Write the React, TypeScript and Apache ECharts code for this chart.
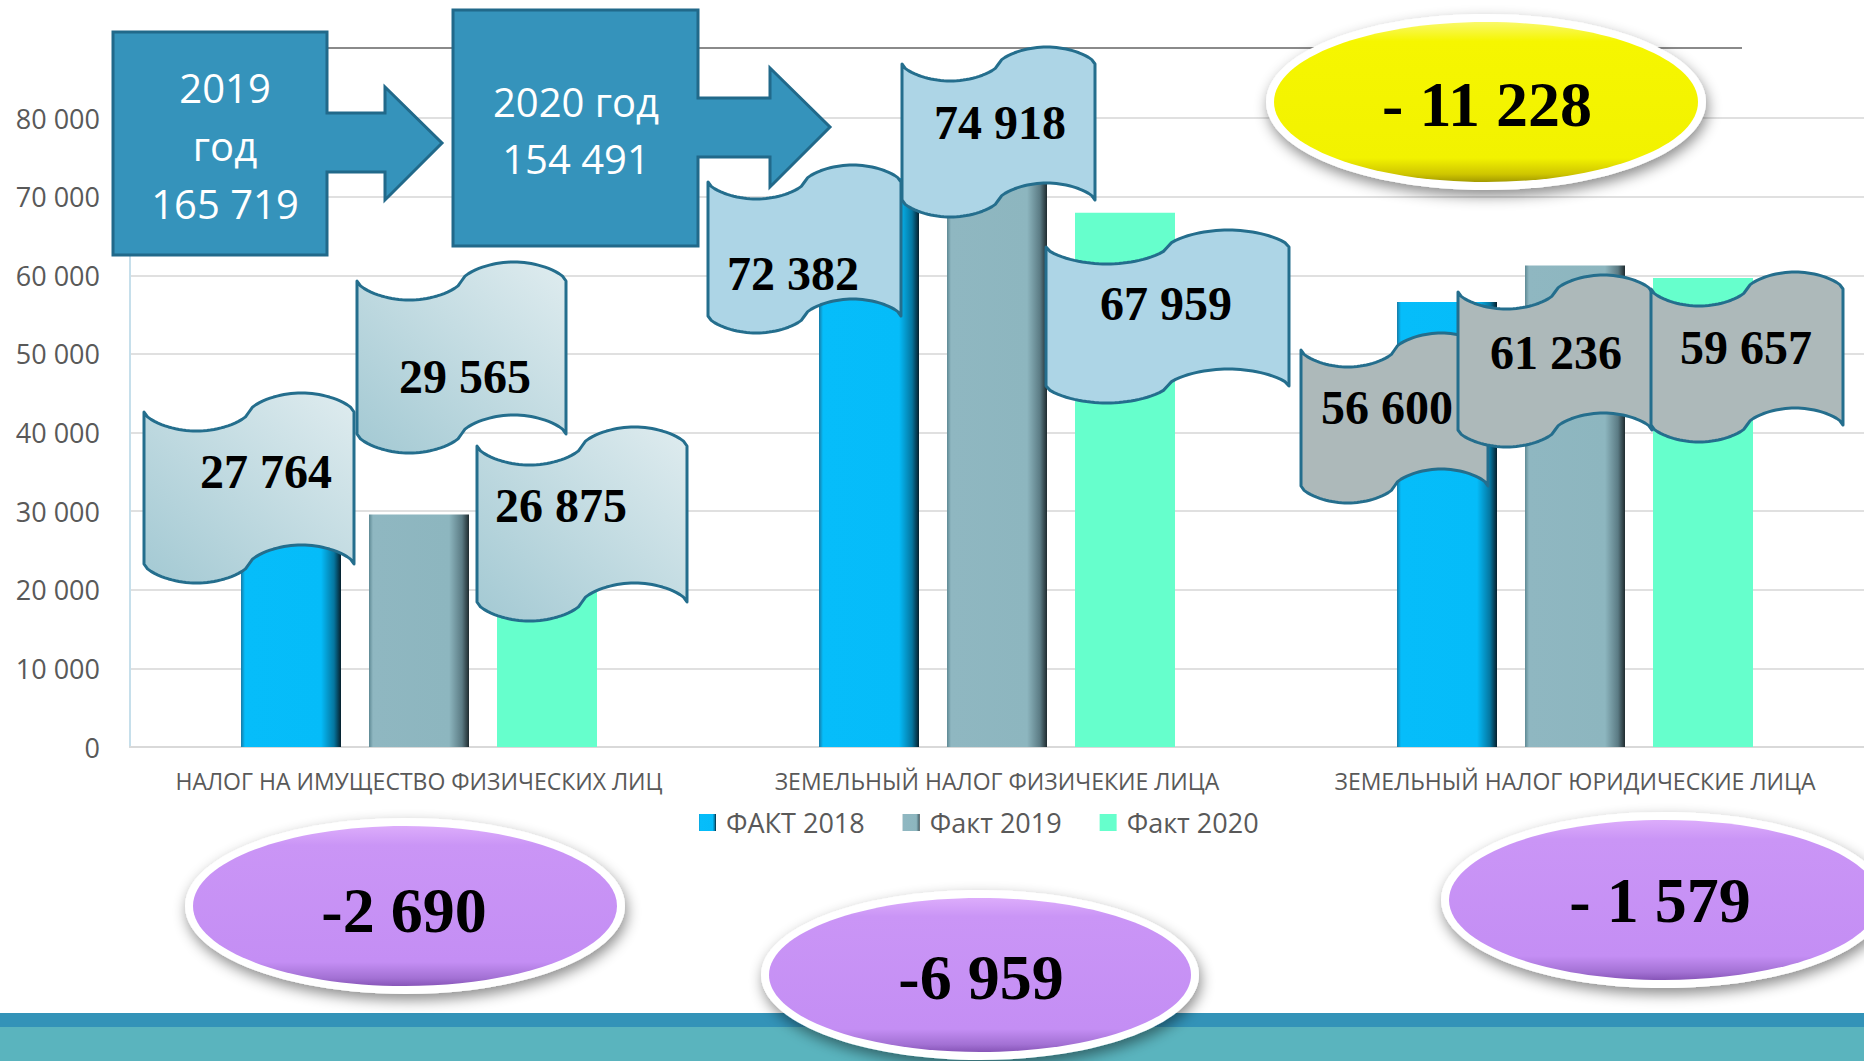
import React, { useEffect, useRef } from 'react';
import * as echarts from 'echarts';

// ---------- data ----------
const categories = [
  'НАЛОГ НА ИМУЩЕСТВО ФИЗИЧЕСКИХ ЛИЦ',
  'ЗЕМЕЛЬНЫЙ НАЛОГ ФИЗИЧЕКИЕ ЛИЦА',
  'ЗЕМЕЛЬНЫЙ НАЛОГ ЮРИДИЧЕСКИЕ ЛИЦА',
];
const seriesNames = ['ФАКТ 2018', 'Факт 2019', 'Факт 2020'];
const fact2018 = [27764, 72382, 56600];
const fact2019 = [29565, 74918, 61236];
const fact2020 = [26875, 67959, 59657];
const yMin = 0;
const yMax = 80000;
const yInterval = 10000;
const totalYears = ['2019', '2020'];
const totals = [165719, 154491];
const diffLabels = ['-2 690', '-6 959', '- 1 579'];
const totalDiffLabel = '- 11 228';

const fmt = (n: number) => String(n).replace(/\B(?=(\d{3})+(?!\d))/g, ' ');

// ---------- decoration layout (annotations, not marks) ----------
// [x, y, w, h, textX, textY] per category, per series
const callouts = [
  [[144, 393, 210, 190, 266, 471], [357, 262, 209, 191, 465, 376], [477, 427, 210, 194, 561, 505]],
  [[708, 165, 193, 168, 793, 273], [902, 47, 193, 170, 1000, 122], [1046, 230, 243, 173, 1166, 303]],
  [[1301, 333, 187, 170, 1387, 407], [1458, 275, 194, 172, 1556, 352], [1651, 272, 192, 170, 1746, 347]],
];
const diffEllipses = [
  [405, 906, 220, 88, 404, 910],
  [980, 975, 219, 85, 981, 977],
  [1664, 900, 223, 88, 1660, 900],
];
const totalEllipse = [1486, 102, 220, 88, 1487, 104];

function wavePoints(x: number, y: number, w: number, h: number, a: number) {
  const n = 60;
  const edge = (t: number) => {
    if (t <= 0.5) return a * Math.pow(Math.sin(Math.PI * (t / 0.5)), 0.6);
    return -a * Math.pow(Math.sin(Math.PI * ((t - 0.5) / 0.5)), 0.6);
  };
  const pts: number[][] = [];
  for (let i = 0; i <= n; i++) {
    const t = i / n;
    pts.push([x + w * t, y + a + edge(t)]);
  }
  for (let i = n; i >= 0; i--) {
    const t = i / n;
    pts.push([x + w * t, y + h - a + edge(t)]);
  }
  return pts;
}

const waveFills: any[] = [
  {
    type: 'linear', x: 0, y: 1, x2: 1, y2: 0,
    colorStops: [
      { offset: 0, color: '#a3c9d3' },
      { offset: 1, color: '#dfecef' },
    ],
  },
  '#add5e6',
  '#adb9ba',
];

function ellipseGroup(e: number[], kind: 'yellow' | 'purple', label: string, z: number) {
  const [cx, cy, rx, ry, tx, ty] = e;
  const fill =
    kind === 'yellow'
      ? {
          type: 'linear', x: 0, y: 0, x2: 0, y2: 1,
          colorStops: [
            { offset: 0, color: '#f9f96a' },
            { offset: 0.12, color: '#f6f600' },
            { offset: 0.85, color: '#f2f200' },
            { offset: 0.95, color: '#cfc600' },
            { offset: 1, color: '#a39a00' },
          ],
        }
      : {
          type: 'linear', x: 0, y: 0, x2: 0, y2: 1,
          colorStops: [
            { offset: 0, color: '#dcacfb' },
            { offset: 0.12, color: '#ca95f6' },
            { offset: 0.85, color: '#c48ef4' },
            { offset: 0.95, color: '#a371d4' },
            { offset: 1, color: '#8755b8' },
          ],
        };
  return [
    {
      type: 'ellipse', z,
      shape: { cx, cy, rx, ry },
      style: {
        fill: '#ffffff',
        shadowBlur: 14,
        shadowColor: 'rgba(0,0,0,0.45)',
        shadowOffsetX: 2,
        shadowOffsetY: 6,
      },
    },
    {
      type: 'ellipse', z: z + 1,
      shape: { cx, cy, rx: rx - 8, ry: ry - 8 },
      style: { fill },
    },
    {
      type: 'text', z: z + 2,
      x: tx, y: ty,
      style: {
        text: label,
        fill: '#000000',
        font: 'bold 64px "Liberation Serif", "Times New Roman", serif',
        align: 'center',
        verticalAlign: 'middle',
      },
    },
  ];
}

export default function App() {
  const ref = useRef<HTMLDivElement>(null);

  useEffect(() => {
    if (!ref.current) return;
    const chart = echarts.init(ref.current, undefined, { renderer: 'svg' });

    const blueGrad = {
      type: 'linear', x: 0, y: 0, x2: 1, y2: 0,
      colorStops: [
        { offset: 0, color: '#167aa6' },
        { offset: 0.04, color: '#06bdfa' },
        { offset: 0.8, color: '#05bcf9' },
        { offset: 0.93, color: '#0576a0' },
        { offset: 1, color: '#061f2c' },
      ],
    };
    const grayGrad = {
      type: 'linear', x: 0, y: 0, x2: 1, y2: 0,
      colorStops: [
        { offset: 0, color: '#5e8994' },
        { offset: 0.04, color: '#8fb7c1' },
        { offset: 0.8, color: '#8db6bf' },
        { offset: 0.93, color: '#5b7b84' },
        { offset: 1, color: '#1f2b2f' },
      ],
    };
    const colors = [blueGrad, grayGrad, '#66ffcc'];
    const values = [fact2018, fact2019, fact2020];

    const graphics: any[] = [];
    // title underline
    graphics.push({
      type: 'line', z: 3,
      shape: { x1: 327, y1: 48, x2: 1742, y2: 48 },
      style: { stroke: '#8a8a8a', lineWidth: 2 },
    });
    // bottom bands
    graphics.push({ type: 'rect', z: 3, shape: { x: 0, y: 1013, width: 1864, height: 14 }, style: { fill: '#3393b8' } });
    graphics.push({ type: 'rect', z: 3, shape: { x: 0, y: 1027, width: 1864, height: 34 }, style: { fill: '#5ab4be' } });

    // arrow callout boxes with totals
    const arrows = [
      [[113, 32], [327, 32], [327, 113], [385, 113], [385, 87], [442, 143], [385, 200], [385, 172], [327, 172], [327, 255], [113, 255]],
      [[453, 10], [698, 10], [698, 98], [770, 98], [770, 68], [830, 127], [770, 187], [770, 157], [698, 157], [698, 246], [453, 246]],
    ];
    arrows.forEach((pts) => {
      graphics.push({
        type: 'polygon', z: 10,
        shape: { points: pts },
        style: { fill: '#3593bb', stroke: '#21698a', lineWidth: 3, lineJoin: 'miter' },
      });
    });
    graphics.push({
      type: 'text', z: 12, x: 225, y: 145,
      style: {
        text: `${totalYears[0]}\nгод\n${fmt(totals[0])}`,
        fill: '#ffffff',
        font: '40px "Open Sans", sans-serif',
        lineHeight: 58,
        align: 'center',
        verticalAlign: 'middle',
      },
    });
    graphics.push({
      type: 'text', z: 12, x: 576, y: 130,
      style: {
        text: `${totalYears[1]} год\n${fmt(totals[1])}`,
        fill: '#ffffff',
        font: '40px "Open Sans", sans-serif',
        lineHeight: 57,
        align: 'center',
        verticalAlign: 'middle',
      },
    });

    // wave callouts with values
    let z = 14;
    callouts.forEach((cat, ci) => {
      cat.forEach((c, si) => {
        const [x, y, w, h, tx, ty] = c;
        const a = Math.round(h * 0.1);
        graphics.push({
          type: 'polygon', z,
          shape: { points: wavePoints(x, y, w, h, a) },
          style: {
            fill: waveFills[ci],
            stroke: '#246e8d',
            lineWidth: 3,
            lineJoin: 'round',
          },
        });
        graphics.push({
          type: 'text', z: z + 1, x: tx, y: ty,
          style: {
            text: fmt(values[si][ci]),
            fill: '#000000',
            font: 'bold 48px "Liberation Serif", "Times New Roman", serif',
            align: 'center',
            verticalAlign: 'middle',
          },
        });
        z += 2;
      });
    });

    // difference ellipses
    graphics.push(...ellipseGroup(totalEllipse, 'yellow', totalDiffLabel, 40));
    diffEllipses.forEach((e, i) => {
      graphics.push(...ellipseGroup(e, 'purple', diffLabels[i], 44 + i * 4));
    });

    chart.setOption({
      animation: false,
      backgroundColor: '#ffffff',
      grid: { left: 130, right: 0, top: 118, bottom: 314 },
      legend: {
        data: seriesNames,
        left: 694,
        top: 804,
        icon: 'rect',
        itemWidth: 17,
        itemHeight: 17,
        itemGap: 38,
        textStyle: {
          fontFamily: '"Open Sans", sans-serif',
          fontSize: 27,
          color: '#595959',
          padding: [0, 0, 0, 5],
        },
      },
      xAxis: {
        type: 'category',
        data: categories,
        axisTick: { show: false },
        axisLine: { lineStyle: { color: '#d9d9d9', width: 2 } },
        axisLabel: {
          interval: 0,
          margin: 22,
          fontFamily: '"Open Sans", sans-serif',
          fontSize: 23,
          color: '#595959',
        },
      },
      yAxis: {
        type: 'value',
        min: yMin,
        max: yMax,
        interval: yInterval,
        axisLine: { show: true, lineStyle: { color: '#c6dfeb', width: 2 } },
        axisTick: { show: false },
        splitLine: { lineStyle: { color: '#e0e0e0', width: 2 } },
        axisLabel: {
          margin: 30,
          fontFamily: '"Open Sans", sans-serif',
          fontSize: 27,
          color: '#595959',
          formatter: (v: number) => fmt(v),
        },
      },
      series: seriesNames.map((name, i) => ({
        name,
        type: 'bar',
        data: values[i],
        barWidth: 100,
        barGap: '28%',
        itemStyle: { color: colors[i] },
      })),
      graphic: graphics,
    });

    return () => chart.dispose();
  }, []);

  return (
    <div
      ref={ref}
      style={{ position: 'fixed', left: 0, top: 0, width: 1864, height: 1061, background: '#fff' }}
    />
  );
}
